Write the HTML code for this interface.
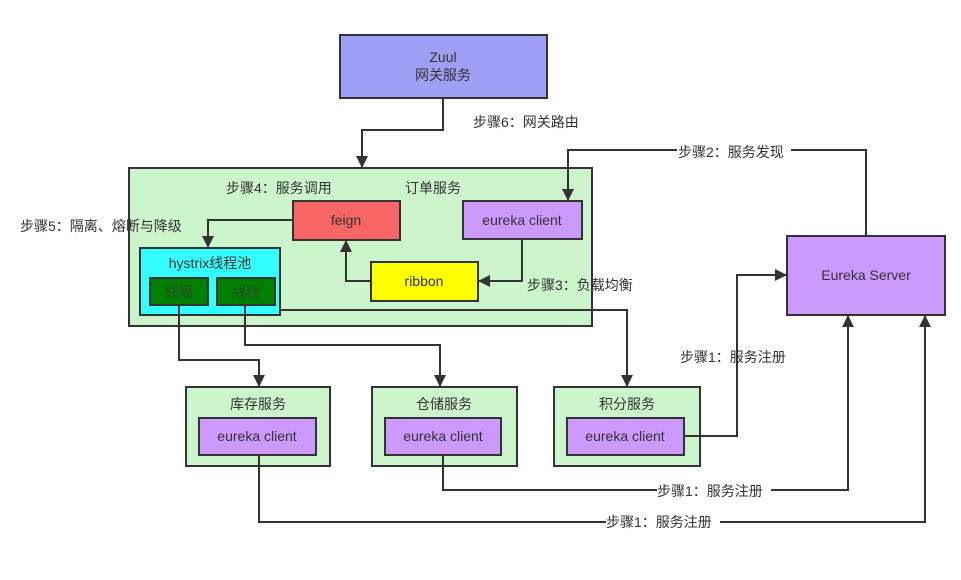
<!DOCTYPE html>
<html><head><meta charset="utf-8"><style>
body{margin:0;background:#fff}
text{font-family:"Liberation Sans","Noto Sans CJK SC",sans-serif;font-size:14px;fill:#333}
</style></head><body>
<svg width="961" height="575" viewBox="0 0 961 575" xmlns="http://www.w3.org/2000/svg">
<defs><marker id="a" markerWidth="12" markerHeight="12" refX="11" refY="6" orient="auto" markerUnits="userSpaceOnUse"><path d="M0,0 L12,6 L0,12 z" fill="#333"/></marker></defs>
<g stroke="#333" stroke-width="2" fill="none">
<rect x="340" y="35" width="207" height="63" fill="#9f9ff5"/>
<rect x="129" y="168" width="463" height="158" fill="#ccf5cc"/>
<rect x="293" y="201" width="107" height="39" fill="#f86666"/>
<rect x="463" y="201" width="119" height="38" fill="#cc99ff"/>
<rect x="371" y="262" width="107" height="39" fill="#ffff00"/>
<rect x="140" y="248" width="140" height="67" fill="#33ffff"/>
<rect x="150" y="278" width="58" height="27" fill="#008000"/>
<rect x="217" y="278" width="58" height="27" fill="#008000"/>
<rect x="787" y="236" width="158" height="79" fill="#cc99ff"/>
<rect x="186" y="387" width="144" height="79" fill="#ccf5cc"/>
<rect x="199" y="418" width="117" height="37" fill="#cc99ff"/>
<rect x="372" y="387" width="145" height="79" fill="#ccf5cc"/>
<rect x="385" y="418" width="116" height="37" fill="#cc99ff"/>
<rect x="554" y="387" width="146" height="79" fill="#ccf5cc"/>
<rect x="567" y="418" width="117" height="37" fill="#cc99ff"/>
<g marker-end="url(#a)">
<polyline points="443,98 443,130 362,130 362,167"/>
<polyline points="293,220 208,220 208,247"/>
<polyline points="522,239 522,281 479,281"/>
<polyline points="371,281 346,281 346,241"/>
<polyline points="280,310 627,310 627,386"/>
<polyline points="179,305 179,360 259,360 259,386"/>
<polyline points="245,305 245,345 440,345 440,386"/>
<polyline points="866,236 866,150 568,150 568,200"/>
<polyline points="684,436 737,436 737,275 786,275"/>
<polyline points="443,455 443,490 848,490 848,316"/>
<polyline points="259,455 259,522 925,522 925,316"/>
</g></g>
<g fill="#fff">
<rect x="677" y="143" width="114" height="16"/>
<rect x="657" y="483" width="114" height="16"/>
<rect x="606" y="514" width="114" height="16"/>
</g>
<text x="443" y="62" text-anchor="middle">Zuul</text>
<text x="443" y="80" text-anchor="middle">网关服务</text>
<text x="473" y="127">步骤6：网关路由</text>
<text x="226" y="193">步骤4：服务调用</text>
<text x="405" y="193">订单服务</text>
<text x="20" y="231">步骤5：隔离、熔断与降级</text>
<text x="346" y="225" text-anchor="middle">feign</text>
<text x="522" y="225" text-anchor="middle">eureka client</text>
<text x="424" y="286" text-anchor="middle">ribbon</text>
<text x="210" y="268" text-anchor="middle">hystrix线程池</text>
<text x="179" y="297" text-anchor="middle" style="fill:#2a4a2a">线程</text>
<text x="246" y="297" text-anchor="middle" style="fill:#2a4a2a">线程</text>
<text x="527" y="290">步骤3：负载均衡</text>
<text x="678" y="157">步骤2：服务发现</text>
<text x="866" y="280" text-anchor="middle">Eureka Server</text>
<text x="680" y="362">步骤1：服务注册</text>
<text x="657" y="496">步骤1：服务注册</text>
<text x="606" y="527">步骤1：服务注册</text>
<text x="258" y="409" text-anchor="middle">库存服务</text>
<text x="444" y="409" text-anchor="middle">仓储服务</text>
<text x="627" y="409" text-anchor="middle">积分服务</text>
<text x="257" y="441" text-anchor="middle">eureka client</text>
<text x="443" y="441" text-anchor="middle">eureka client</text>
<text x="625" y="441" text-anchor="middle">eureka client</text>
</svg>
</body></html>
